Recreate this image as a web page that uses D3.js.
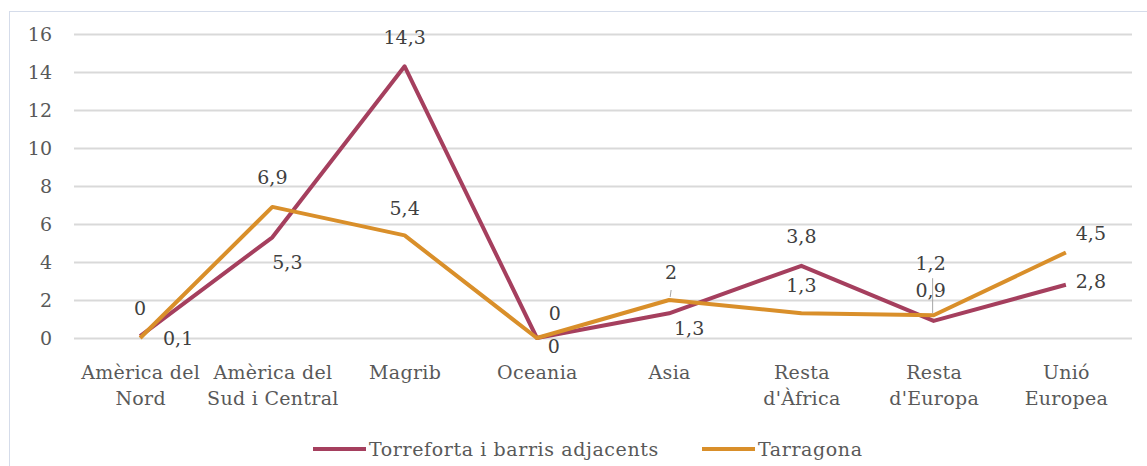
<!DOCTYPE html>
<html>
<head>
<meta charset="utf-8">
<script src="https://cdn.jsdelivr.net/npm/d3@7"></script>
<style>
  body { margin: 0; background: #fff; }
  svg text { font-family: "DejaVu Serif", serif; }
</style>
</head>
<body>
<svg id="chart"></svg>
<script>
// DATA
const categories = ["Amèrica del Nord", "Amèrica del Sud i Central", "Magrib", "Oceania",
  "Asia", "Resta d'Àfrica", "Resta d'Europa", "Unió Europea"];
const categoryLines = [["Amèrica del", "Nord"], ["Amèrica del", "Sud i Central"], ["Magrib"], ["Oceania"],
  ["Asia"], ["Resta", "d'Àfrica"], ["Resta", "d'Europa"], ["Unió", "Europea"]];
const torrefortaValues = [0.1, 5.3, 14.3, 0, 1.3, 3.8, 0.9, 2.8];
const tarragonaValues = [0, 6.9, 5.4, 0, 2, 1.3, 1.2, 4.5];
const yTicks = [0, 2, 4, 6, 8, 10, 12, 14, 16];
const seriesNames = ["Torreforta i barris adjacents", "Tarragona"];

// label placement (offset of label centre from its point, in px)
const torrefortaLabelOffsets = [[38, 2], [15, 25], [0, -29], [17, 8], [20, 15], [0, -29], [-3, -31], [25, -3]];
const tarragonaLabelOffsets = [[0, -30], [0, -30], [0, -27], [18, -25], [2, -28], [0, -28], [-3, -52], [25, -19]];

const width = 1147, height = 466;
const margin = { left: 74, right: 15, top: 34, bottom: 128 };
const colors = ["#a53f5e", "#d98f2a"];
const fontSize = "19px";

const svg = d3.select("#chart").attr("width", width).attr("height", height);

// frame
svg.append("rect")
  .attr("x", 9.5).attr("y", 11.5)
  .attr("width", width).attr("height", height)
  .attr("fill", "none")
  .attr("stroke", "#d5dcea")
  .attr("stroke-width", 1);

const xScale = d3.scalePoint()
  .domain(categories)
  .range([margin.left, width - margin.right])
  .padding(0.5);

const yScale = d3.scaleLinear()
  .domain([0, 16])
  .range([height - margin.bottom, margin.top]);

// y axis + gridlines
const yAxis = svg.append("g")
  .attr("transform", `translate(${margin.left}, 0)`)
  .call(d3.axisLeft(yScale).tickValues(yTicks)
    .tickSize(-(width - margin.left - margin.right))
    .tickPadding(22)
    .tickFormat(d => d));
yAxis.select(".domain").remove();
yAxis.selectAll(".tick line").attr("stroke", "#d9d9d9").attr("stroke-width", 2);
yAxis.selectAll(".tick text")
  .attr("fill", "#595959")
  .style("font-size", fontSize)
  .style("font-family", "DejaVu Serif");

// x axis labels (multi-line)
const xAxis = svg.append("g")
  .attr("transform", `translate(0, ${height - margin.bottom})`)
  .call(d3.axisBottom(xScale).tickSize(0).tickFormat(""));
xAxis.select(".domain").remove();
xAxis.selectAll(".tick").each(function (d, i) {
  const t = d3.select(this).append("text")
    .attr("fill", "#595959")
    .attr("text-anchor", "middle")
    .style("font-size", fontSize)
    .style("letter-spacing", "0.3px");
  categoryLines[i].forEach((line, j) => {
    t.append("tspan").attr("x", 0).attr("y", 41 + j * 26).text(line);
  });
});

// lines
const lineGen = d3.line()
  .x((d, i) => xScale(categories[i]))
  .y(d => yScale(d));

const allSeries = [torrefortaValues, tarragonaValues];
const allOffsets = [torrefortaLabelOffsets, tarragonaLabelOffsets];

svg.selectAll(".series")
  .data(allSeries)
  .join("path")
  .attr("class", "series")
  .attr("fill", "none")
  .attr("stroke", (d, i) => colors[i])
  .attr("stroke-width", 4)
  .attr("stroke-linejoin", "round")
  .attr("d", d => lineGen(d));

// leader lines
const leaders = [[1, 4, 10, 3], [1, 6, 37, 2]]; // [series, index, from dy above point, to dy above point]
svg.selectAll(".leader")
  .data(leaders)
  .join("line")
  .attr("class", "leader")
  .attr("x1", d => xScale(categories[d[1]]) + (d[1] === 6 ? -1 : 2))
  .attr("x2", d => xScale(categories[d[1]]) + (d[1] === 6 ? -1 : 1))
  .attr("y1", d => yScale(allSeries[d[0]][d[1]]) - d[2])
  .attr("y2", d => yScale(allSeries[d[0]][d[1]]) - d[3])
  .attr("stroke", "#a6a6a6")
  .attr("stroke-width", 1);

// data labels
allSeries.forEach((values, s) => {
  svg.selectAll(`.label-${s}`)
    .data(values)
    .join("text")
    .attr("class", `label-${s}`)
    .attr("x", (d, i) => xScale(categories[i]) + allOffsets[s][i][0])
    .attr("y", (d, i) => yScale(d) + allOffsets[s][i][1])
    .attr("dy", "0.35em")
    .attr("text-anchor", "middle")
    .attr("fill", "#404040")
    .style("font-size", fontSize)
    .text(d => String(d).replace(".", ","));
});

// legend
const legendX = [313, 702];
const legend = svg.selectAll(".legend")
  .data(seriesNames)
  .join("g")
  .attr("class", "legend")
  .attr("transform", (d, i) => `translate(${legendX[i]}, 449)`);
legend.append("line")
  .attr("x1", 0).attr("x2", 53)
  .attr("stroke", (d, i) => colors[i])
  .attr("stroke-width", 4);
legend.append("text")
  .attr("x", 56)
  .attr("dy", "0.35em")
  .attr("fill", "#595959")
  .style("font-size", fontSize)
  .style("letter-spacing", "0.6px")
  .text(d => d);
</script>
</body>
</html>
